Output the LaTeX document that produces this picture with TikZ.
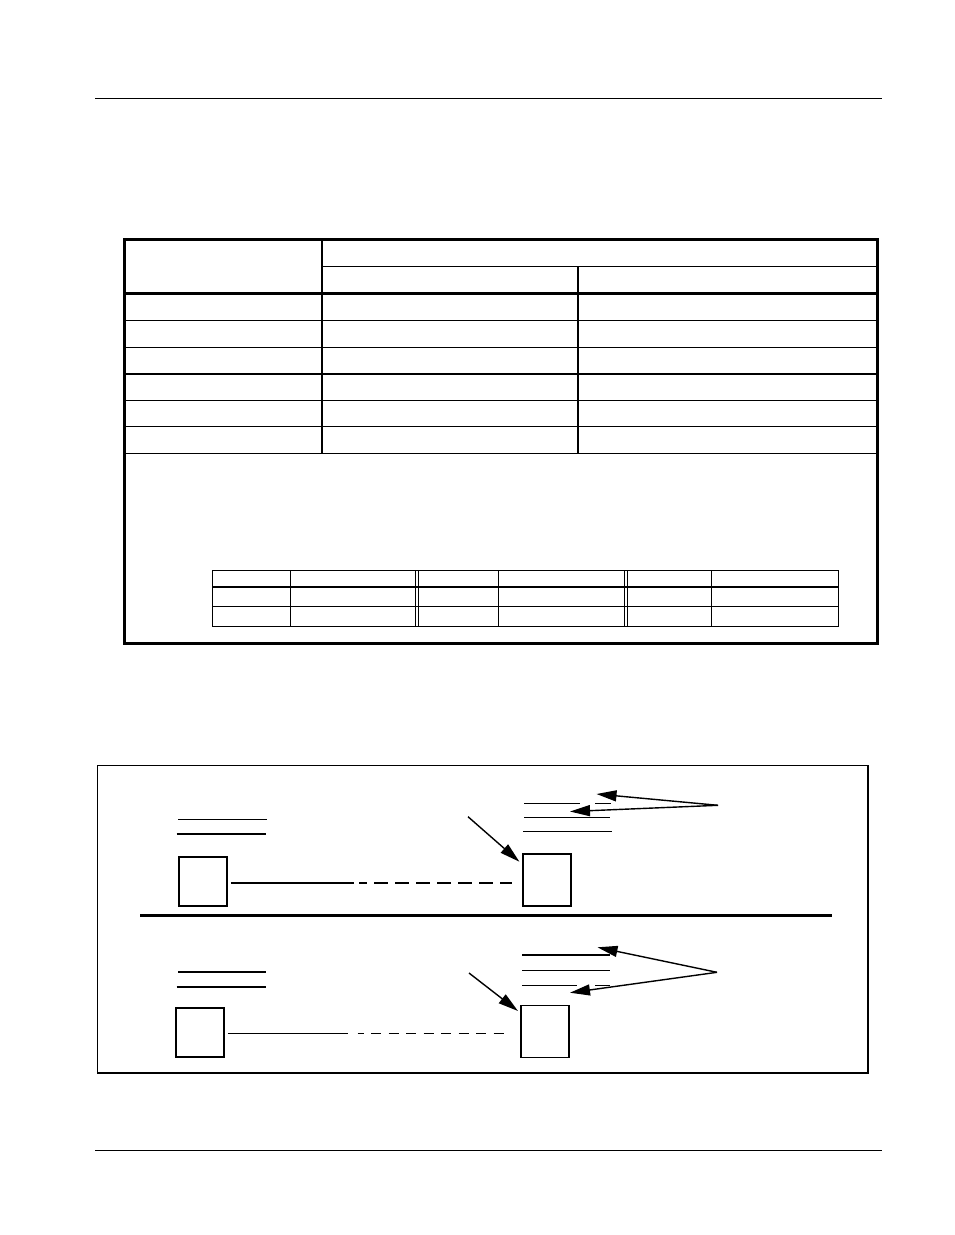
\documentclass[tikz,border=0pt]{standalone}
\usetikzlibrary{arrows.meta}
\begin{document}
\begin{tikzpicture}[x=1pt,y=-1pt,
    unit/.style={draw,line width=1.5pt,minimum width=48pt,inner sep=0pt},
    ptr/.style={line width=1.4pt,-{Triangle[length=20pt,width=11pt]}},
    rule/.style={line width=1.1pt}]
  \useasboundingbox (0,0) rectangle (954,1235);

  % page header and footer
  \draw [line width=1pt] (95,98.5) -- (882,98.5);
  \draw [line width=1pt] (95,1150.5) -- (882,1150.5);

  % table
  \begin{scope}
    \draw [line width=3pt] (124,239.3) rectangle (877,643.5);
    \draw [line width=1.3pt] (322,239) -- (322,453.3);
    \draw [line width=1.3pt] (322,266.5) -- (877,266.5);
    \draw [line width=1.3pt] (578,266.5) -- (578,453.3);
    \draw [line width=3pt] (124,293.5) -- (877,293.5);
    \draw [line width=1.3pt] (124,320.7) -- (877,320.7);
    \draw [line width=1.3pt] (124,347.3) -- (877,347.3);
    \draw [line width=1.3pt] (124,374) -- (877,374);
    \draw [line width=1.3pt] (124,400.7) -- (877,400.7);
    \draw [line width=1.3pt] (124,426.7) -- (877,426.7);
    \draw [line width=1.3pt] (124,453.3) -- (877,453.3);

    % small table in the note
    \draw [line width=1pt] (212,570.5) rectangle (838,626);
    \draw [line width=2pt] (212,587) -- (838,587);
    \draw [line width=1pt] (212,606) -- (838,606);
    \draw [line width=1pt] (290.6,570.5) -- (290.6,626);
    \draw [line width=1pt] (415.2,570.5) -- (415.2,626);
    \draw [line width=1pt] (418.6,570.5) -- (418.6,626);
    \draw [line width=1pt] (498,570.5) -- (498,626);
    \draw [line width=1pt] (624.2,570.5) -- (624.2,626);
    \draw [line width=1pt] (627.3,570.5) -- (627.3,626);
    \draw [line width=1pt] (711,570.5) -- (711,626);
  \end{scope}

  % figure frame
  \draw [line width=1.5pt] (97.5,765.5) rectangle (868,1073);
  \draw [line width=2.8pt] (140,915.8) -- (832,915.8);

  % upper case
  \node [unit,minimum height=49pt] (ua) at (203,881.5) {};
  \node [unit,minimum height=52pt] (ub) at (547,880) {};
  \draw [rule] (178,819.5) -- (266.5,819.5);
  \draw [rule] (176.6,834) -- (265.6,834);
  \draw [rule] (524,803.3) -- (580,803.3);
  \draw [rule] (595,803.3) -- (611.4,803.3);
  \draw [rule] (524,817.3) -- (610.4,817.3);
  \draw [rule] (523,831.7) -- (612,831.7);

  \coordinate (ubrk) at (354,882.6);
  \coordinate (uend) at (512,882.6);
  \draw [line width=2pt] (ua.east |- ubrk) ++(3,0) -- (ubrk);
  \draw [line width=2pt,dash pattern=on 14pt off 7pt,dash phase=6pt]
    ([xshift=5pt]ubrk) -- (uend);

  \coordinate (ulbl) at (718,805.3);
  \coordinate (utop) at (596.5,794);
  \coordinate (umid) at (570,811.5);
  \coordinate (uarr) at (468,816.7);
  \coordinate (utip) at (519.4,861.7);
  \draw [ptr] (ulbl) -- (utop);
  \draw [ptr] (ulbl) -- (umid);
  \draw [ptr] (uarr) -- (utip);

  % lower case
  \node [unit,minimum height=49pt] (la) at (200,1032.5) {};
  \node [unit,minimum height=52pt] (lb) at (545,1031.5) {};
  \draw [rule] (178,972) -- (265.6,972);
  \draw [rule] (176.6,987) -- (265.6,987);
  \draw [rule] (522,955) -- (610,955);
  \draw [rule] (522,970.3) -- (610,970.3);
  \draw [rule] (522,985.3) -- (576.6,985.3);
  \draw [rule] (595,985.3) -- (610,985.3);

  \coordinate (lbrk) at (348,1033.3);
  \coordinate (lend) at (509,1033.3);
  \draw [line width=1.2pt] (la.east |- lbrk) ++(3,0) -- (lbrk);
  \draw [line width=1.2pt,dash pattern=on 10pt off 7.5pt,dash phase=4pt]
    ([xshift=9.7pt]lbrk) -- (lend);

  \coordinate (llbl) at (717,972.3);
  \coordinate (ltop) at (597.5,947.3);
  \coordinate (lbot) at (570,992.7);
  \coordinate (larr) at (469,973);
  \coordinate (ltip) at (518,1011);
  \draw [ptr] (llbl) -- (ltop);
  \draw [ptr] (llbl) -- (lbot);
  \draw [ptr] (larr) -- (ltip);
\end{tikzpicture}
\end{document}
